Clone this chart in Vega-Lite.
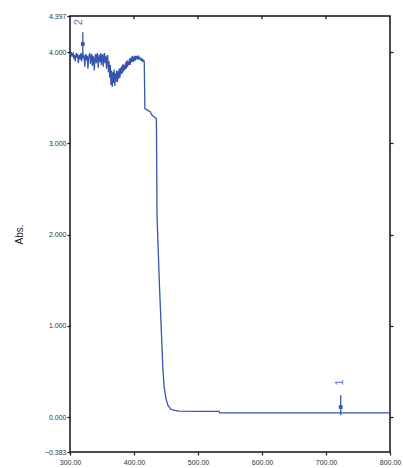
{
  "$schema": "https://vega.github.io/schema/vega-lite/v6.json",
  "autosize": "none",
  "width": 320,
  "height": 436,
  "padding": {"left": 70, "top": 16, "right": 13, "bottom": 16},
  "background": "white",
  "config": {
    "view": {"stroke": "#111", "strokeWidth": 1.5},
    "axis": {"grid": false, "domain": false, "labelFont": "Liberation Sans", "labelFontSize": 7, "labelColor": "#333", "tickColor": "#111", "tickWidth": 1.2, "titleFont": "Liberation Sans", "titleFontWeight": "normal", "titleColor": "#222"}
  },
  "datasets": {
    "spec": [
      {"nm": 300, "abs": 3.99}, {"nm": 301, "abs": 3.97}, {"nm": 302, "abs": 4.0}, {"nm": 303, "abs": 3.95},
      {"nm": 304, "abs": 3.98}, {"nm": 305, "abs": 3.99}, {"nm": 306, "abs": 3.93}, {"nm": 307, "abs": 3.97},
      {"nm": 308, "abs": 3.9}, {"nm": 309, "abs": 3.96}, {"nm": 310, "abs": 3.99}, {"nm": 311, "abs": 3.94},
      {"nm": 312, "abs": 3.98}, {"nm": 313, "abs": 3.88}, {"nm": 314, "abs": 3.95}, {"nm": 315, "abs": 3.97},
      {"nm": 316, "abs": 3.92}, {"nm": 317, "abs": 3.99}, {"nm": 318, "abs": 3.9}, {"nm": 319, "abs": 3.96},
      {"nm": 320, "abs": 4.0}, {"nm": 321, "abs": 3.93}, {"nm": 322, "abs": 3.97}, {"nm": 323, "abs": 3.84},
      {"nm": 324, "abs": 3.94}, {"nm": 325, "abs": 3.98}, {"nm": 326, "abs": 3.91}, {"nm": 327, "abs": 3.96},
      {"nm": 328, "abs": 3.82}, {"nm": 329, "abs": 3.93}, {"nm": 330, "abs": 3.97}, {"nm": 331, "abs": 3.99},
      {"nm": 332, "abs": 3.87}, {"nm": 333, "abs": 3.95}, {"nm": 334, "abs": 3.98}, {"nm": 335, "abs": 3.85},
      {"nm": 336, "abs": 3.96}, {"nm": 337, "abs": 3.92}, {"nm": 338, "abs": 3.8}, {"nm": 339, "abs": 3.94},
      {"nm": 340, "abs": 3.98}, {"nm": 341, "abs": 3.88}, {"nm": 342, "abs": 3.96}, {"nm": 343, "abs": 3.99},
      {"nm": 344, "abs": 3.83}, {"nm": 345, "abs": 3.93}, {"nm": 346, "abs": 3.97}, {"nm": 347, "abs": 3.89},
      {"nm": 348, "abs": 3.99}, {"nm": 349, "abs": 3.86}, {"nm": 350, "abs": 3.95}, {"nm": 351, "abs": 3.98},
      {"nm": 352, "abs": 3.84}, {"nm": 353, "abs": 3.94}, {"nm": 354, "abs": 3.99}, {"nm": 355, "abs": 3.88},
      {"nm": 356, "abs": 3.96}, {"nm": 357, "abs": 3.82}, {"nm": 358, "abs": 3.93}, {"nm": 359, "abs": 3.97},
      {"nm": 360, "abs": 3.78}, {"nm": 361, "abs": 3.9}, {"nm": 362, "abs": 3.72}, {"nm": 363, "abs": 3.86},
      {"nm": 364, "abs": 3.64}, {"nm": 365, "abs": 3.8}, {"nm": 366, "abs": 3.62}, {"nm": 367, "abs": 3.78},
      {"nm": 368, "abs": 3.66}, {"nm": 369, "abs": 3.81}, {"nm": 370, "abs": 3.63}, {"nm": 371, "abs": 3.77},
      {"nm": 372, "abs": 3.68}, {"nm": 373, "abs": 3.8}, {"nm": 374, "abs": 3.67}, {"nm": 375, "abs": 3.79},
      {"nm": 376, "abs": 3.71}, {"nm": 377, "abs": 3.82}, {"nm": 378, "abs": 3.72}, {"nm": 379, "abs": 3.83},
      {"nm": 380, "abs": 3.76}, {"nm": 381, "abs": 3.85}, {"nm": 382, "abs": 3.77}, {"nm": 383, "abs": 3.87},
      {"nm": 384, "abs": 3.79}, {"nm": 385, "abs": 3.86}, {"nm": 386, "abs": 3.81}, {"nm": 387, "abs": 3.89},
      {"nm": 388, "abs": 3.82}, {"nm": 389, "abs": 3.91}, {"nm": 390, "abs": 3.84}, {"nm": 391, "abs": 3.9},
      {"nm": 392, "abs": 3.86}, {"nm": 393, "abs": 3.93}, {"nm": 394, "abs": 3.86}, {"nm": 395, "abs": 3.94},
      {"nm": 396, "abs": 3.89}, {"nm": 397, "abs": 3.96}, {"nm": 398, "abs": 3.89}, {"nm": 399, "abs": 3.95},
      {"nm": 400, "abs": 3.9}, {"nm": 401, "abs": 3.96}, {"nm": 402, "abs": 3.91}, {"nm": 403, "abs": 3.96},
      {"nm": 404, "abs": 3.92}, {"nm": 405, "abs": 3.96}, {"nm": 406, "abs": 3.92}, {"nm": 407, "abs": 3.95},
      {"nm": 408, "abs": 3.93}, {"nm": 409, "abs": 3.94}, {"nm": 410, "abs": 3.92}, {"nm": 411, "abs": 3.93},
      {"nm": 412, "abs": 3.91}, {"nm": 413, "abs": 3.92}, {"nm": 414, "abs": 3.9}, {"nm": 415, "abs": 3.91},
      {"nm": 416, "abs": 3.9}, {"nm": 417, "abs": 3.38},
      {"nm": 420, "abs": 3.37}, {"nm": 422, "abs": 3.36}, {"nm": 425, "abs": 3.35}, {"nm": 428, "abs": 3.31},
      {"nm": 432, "abs": 3.29}, {"nm": 435, "abs": 3.27}, {"nm": 436, "abs": 2.2}, {"nm": 440, "abs": 1.4},
      {"nm": 443, "abs": 0.9}, {"nm": 445, "abs": 0.55}, {"nm": 447, "abs": 0.33}, {"nm": 450, "abs": 0.2},
      {"nm": 453, "abs": 0.13}, {"nm": 457, "abs": 0.09}, {"nm": 462, "abs": 0.075}, {"nm": 470, "abs": 0.065},
      {"nm": 500, "abs": 0.062}, {"nm": 533, "abs": 0.062}, {"nm": 534, "abs": 0.045}, {"nm": 800, "abs": 0.045}
    ],
    "marks": [
      {"label": "2", "nm": 320, "top": 4.22, "bottom": 4.0, "head": 4.09, "textY": 4.33, "textNm": 314},
      {"label": "1", "nm": 723, "top": 0.24, "bottom": 0.02, "head": 0.11, "textY": 0.38, "textNm": 722}
    ],
    "topticks": [
      {"nm": 400, "y1": 4.397, "y2": 4.36}, {"nm": 500, "y1": 4.397, "y2": 4.36},
      {"nm": 600, "y1": 4.397, "y2": 4.36}, {"nm": 700, "y1": 4.397, "y2": 4.36}
    ]
  },
  "resolve": {"axis": {"x": "independent", "y": "independent"}},
  "layer": [
    {
      "data": {"name": "spec"},
      "mark": {"type": "line", "color": "#3656ad", "strokeWidth": 1.3, "interpolate": "linear"},
      "encoding": {
        "x": {"field": "nm", "type": "quantitative", "scale": {"domain": [300, 800], "nice": false, "zero": false},
          "axis": {"orient": "bottom", "values": [300, 400, 500, 600, 700, 800], "format": ".2f", "title": null, "tickSize": 3, "labelPadding": 3, "labelFlush": false}},
        "y": {"field": "abs", "type": "quantitative", "scale": {"domain": [-0.383, 4.397], "nice": false, "zero": false},
          "axis": {"orient": "left", "values": [-0.383, 0, 1, 2, 3, 4, 4.397], "format": ".3f", "title": "Abs.", "titleFontSize": 10, "titlePadding": 20, "tickSize": 3, "labelPadding": 1, "labelFlush": false}}
      }
    },
    {
      "data": {"name": "spec"},
      "mark": {"type": "line", "opacity": 0},
      "encoding": {
        "x": {"field": "nm", "type": "quantitative", "axis": null},
        "y": {"field": "abs", "type": "quantitative", "axis": {"orient": "right", "values": [0, 1, 2, 3, 4], "labels": false, "title": null, "tickSize": 3}}
      }
    },
    {
      "data": {"name": "topticks"},
      "mark": {"type": "rule", "color": "#111", "strokeWidth": 1.2},
      "encoding": {
        "x": {"field": "nm", "type": "quantitative", "axis": null},
        "y": {"field": "y1", "type": "quantitative", "axis": null},
        "y2": {"field": "y2"}
      }
    },
    {
      "data": {"name": "marks"},
      "mark": {"type": "rule", "color": "#3656ad", "strokeWidth": 1.3},
      "encoding": {
        "x": {"field": "nm", "type": "quantitative", "axis": null},
        "y": {"field": "top", "type": "quantitative", "axis": null},
        "y2": {"field": "bottom"}
      }
    },
    {
      "data": {"name": "marks"},
      "mark": {"type": "point", "shape": "square", "filled": true, "color": "#3656ad", "size": 14, "opacity": 1},
      "encoding": {
        "x": {"field": "nm", "type": "quantitative", "axis": null},
        "y": {"field": "head", "type": "quantitative", "axis": null}
      }
    },
    {
      "data": {"name": "marks"},
      "mark": {"type": "text", "angle": 270, "color": "#5a72c4", "font": "Liberation Sans", "fontSize": 11, "align": "center", "baseline": "middle"},
      "encoding": {
        "x": {"field": "textNm", "type": "quantitative", "axis": null},
        "y": {"field": "textY", "type": "quantitative", "axis": null},
        "text": {"field": "label"}
      }
    }
  ]
}
